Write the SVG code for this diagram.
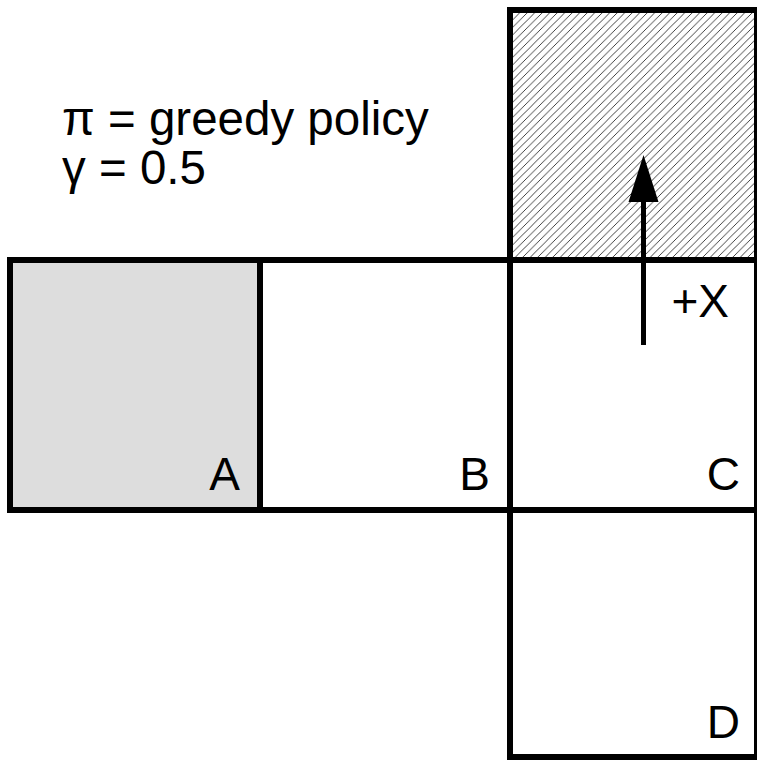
<svg xmlns="http://www.w3.org/2000/svg" width="757" height="761" viewBox="0 0 757 761">
<style>
.cell{stroke:#000;stroke-width:6;fill:#fff}
.lbl{font-family:"Liberation Sans",Arial,sans-serif;font-size:46px;fill:#000}
.leg{font-family:"Liberation Sans",Arial,sans-serif;font-size:47.5px;fill:#000}
</style>
<defs>
<pattern id="hatch" patternUnits="userSpaceOnUse" width="7.5" height="7.5">
<path d="M-1,1 L1,-1 M0,7.5 L7.5,0 M6.5,8.5 L8.5,6.5" stroke="#222" stroke-width="0.85"/>
</pattern>
</defs>
<rect width="757" height="761" fill="#fff"/>
<g id="goal"><rect class="cell" x="510" y="10" width="247" height="250" style="fill:url(#hatch)"/></g>
<g id="A"><rect class="cell" x="10" y="260" width="250" height="250" style="fill:#dddddd"/><text class="lbl" x="240" y="490" text-anchor="end">A</text></g>
<g id="B"><rect class="cell" x="260" y="260" width="250" height="250"/><text class="lbl" x="490" y="490" text-anchor="end">B</text></g>
<g id="C"><rect class="cell" x="510" y="260" width="247" height="250"/><text class="lbl" x="740" y="490" text-anchor="end">C</text><text class="lbl" x="729" y="317" text-anchor="end">+X</text></g>
<g id="D"><rect class="cell" x="510" y="510" width="247" height="247"/><text class="lbl" x="740" y="738" text-anchor="end">D</text></g>
<g id="connectors">
<line x1="643.5" y1="345" x2="643.5" y2="198" stroke="#000" stroke-width="5"/>
<polygon points="643.5,155 628.5,202 658.5,202" fill="#000"/>
</g>
<g id="legend">
<text class="leg" x="62" y="135">π = greedy policy</text>
<text class="leg" x="62" y="184">γ = 0.5</text>
</g>
</svg>
